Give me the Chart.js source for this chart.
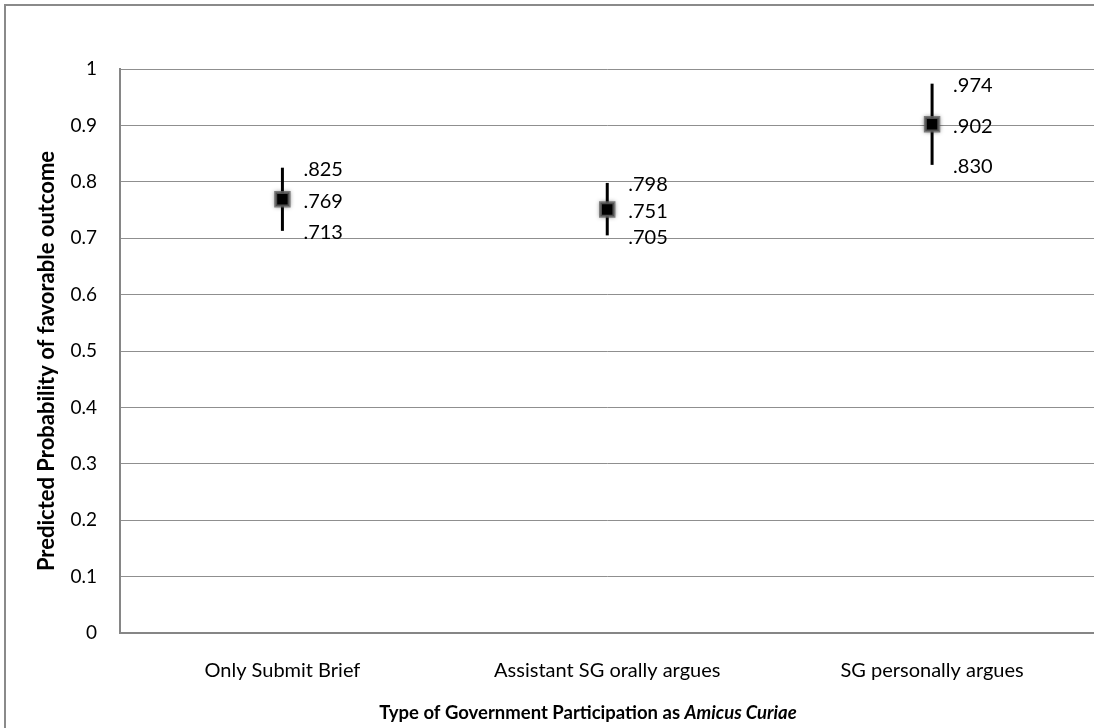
<!DOCTYPE html>
<html>
<head>
<meta charset="utf-8">
<script src="https://cdn.jsdelivr.net/npm/chart.js@4/dist/chart.umd.min.js"></script>
<style>
  html, body { margin: 0; padding: 0; background: #fff; overflow: hidden; width: 1094px; height: 728px; }
  #frame { position: absolute; left: 4px; top: 4px; width: 1200px; height: 800px; border: 2px solid #8a8a8a; box-sizing: border-box; }
  #wrap { position: absolute; left: 0; top: 0; width: 1107px; height: 728px; }
</style>
</head>
<body>
<div id="frame"></div>
<div id="wrap"><canvas id="c"></canvas></div>
<script>
// Predicted probabilities with their confidence bounds
const categories = ['Only Submit Brief', 'Assistant SG orally argues', 'SG personally argues'];
const predicted = [0.769, 0.751, 0.902];
const upper = [0.825, 0.798, 0.974];
const lower = [0.713, 0.705, 0.830];
const yTickLabels = ['0', '0.1', '0.2', '0.3', '0.4', '0.5', '0.6', '0.7', '0.8', '0.9', '1'];
const yTitle = 'Predicted Probability of favorable outcome';
const xTitleParts = [
  { text: 'Type of Government Participation as ', italic: false },
  { text: 'Amicus Curiae', italic: true }
];

const FONT = 'Lato, "Open Sans", sans-serif';
const fmt = v => v.toFixed(3).replace(/^0/, '');

// Vertical interval lines plus the value labels beside each estimate
const intervals = {
  id: 'intervals',
  beforeDatasetsDraw(chart) {
    const { ctx, scales: { x, y } } = chart;
    ctx.save();
    ctx.strokeStyle = '#000';
    ctx.lineWidth = 3;
    categories.forEach((c, i) => {
      const px = x.getPixelForValue(i);
      ctx.beginPath();
      ctx.moveTo(px, y.getPixelForValue(upper[i]));
      ctx.lineTo(px, y.getPixelForValue(lower[i]));
      ctx.stroke();
    });
    ctx.restore();
  },
  beforeDatasetDraw(chart) {
    const ctx = chart.ctx;
    ctx.save();
    ctx.shadowColor = 'rgba(0,0,0,0.35)';
    ctx.shadowBlur = 4;
  },
  afterDatasetDraw(chart) {
    chart.ctx.restore();
  },
  afterDatasetsDraw(chart) {
    const { ctx, scales: { x, y } } = chart;
    ctx.save();
    ctx.fillStyle = '#000';
    ctx.font = '20px ' + FONT;
    ctx.textAlign = 'left';
    ctx.textBaseline = 'middle';
    categories.forEach((c, i) => {
      const px = x.getPixelForValue(i) + 21;
      [upper[i], predicted[i], lower[i]].forEach(v => {
        ctx.fillText(fmt(v), px, y.getPixelForValue(v) + 2);
      });
    });
    ctx.restore();
  }
};

// Axis titles (the horizontal one mixes upright and italic runs)
const axisTitles = {
  id: 'axisTitles',
  afterDraw(chart) {
    const { ctx } = chart;
    ctx.save();
    ctx.fillStyle = '#000';
    ctx.textBaseline = 'middle';

    ctx.save();
    ctx.translate(47, 361);
    ctx.rotate(-Math.PI / 2);
    ctx.textAlign = 'center';
    ctx.font = 'bold 22px ' + FONT;
    ctx.fillText(yTitle, 0, 0);
    ctx.restore();

    const fonts = xTitleParts.map(p => (p.italic ? 'italic ' : '') + 'bold 18.5px ' + FONT);
    const widths = xTitleParts.map((p, i) => { ctx.font = fonts[i]; return ctx.measureText(p.text).width; });
    const total = widths.reduce((a, b) => a + b, 0);
    let cx = 588 - total / 2;
    ctx.textAlign = 'left';
    xTitleParts.forEach((p, i) => {
      ctx.font = fonts[i];
      ctx.fillText(p.text, cx, 713);
      cx += widths[i];
    });
    ctx.restore();
  }
};

new Chart(document.getElementById('c'), {
  type: 'line',
  data: {
    labels: categories,
    datasets: [{
      data: predicted,
      showLine: false,
      pointStyle: 'rect',
      pointRadius: 9.5,
      pointHoverRadius: 9.5,
      pointBackgroundColor: '#000',
      pointBorderColor: 'rgba(100,100,100,0.8)',
      pointBorderWidth: 3
    }]
  },
  options: {
    responsive: true,
    maintainAspectRatio: false,
    devicePixelRatio: 1,
    animation: false,
    layout: { padding: { top: 69, right: 0, bottom: 0, left: 0 } },
    plugins: { legend: { display: false }, tooltip: { enabled: false } },
    scales: {
      x: {
        type: 'category',
        offset: true,
        grid: { display: true, drawOnChartArea: false, drawTicks: false, color: 'transparent' },
        border: { display: true, color: '#868686', width: 2 },
        ticks: { color: '#000', font: { family: FONT, size: 20 }, padding: 26, labelOffset: 0, maxRotation: 0, autoSkip: false },
        afterFit: s => { s.height = 95; }
      },
      y: {
        min: 0,
        max: 1,
        grid: { color: '#8f8f8f', lineWidth: 1, drawTicks: false },
        border: { display: true, color: '#868686', width: 2 },
        ticks: {
          stepSize: 0.1,
          color: '#000',
          font: { family: FONT, size: 19 },
          padding: 23,
          callback: (v, i) => yTickLabels[i]
        },
        afterFit: s => { s.width = 120; }
      }
    }
  },
  plugins: [intervals, axisTitles]
});
</script>
</body>
</html>
